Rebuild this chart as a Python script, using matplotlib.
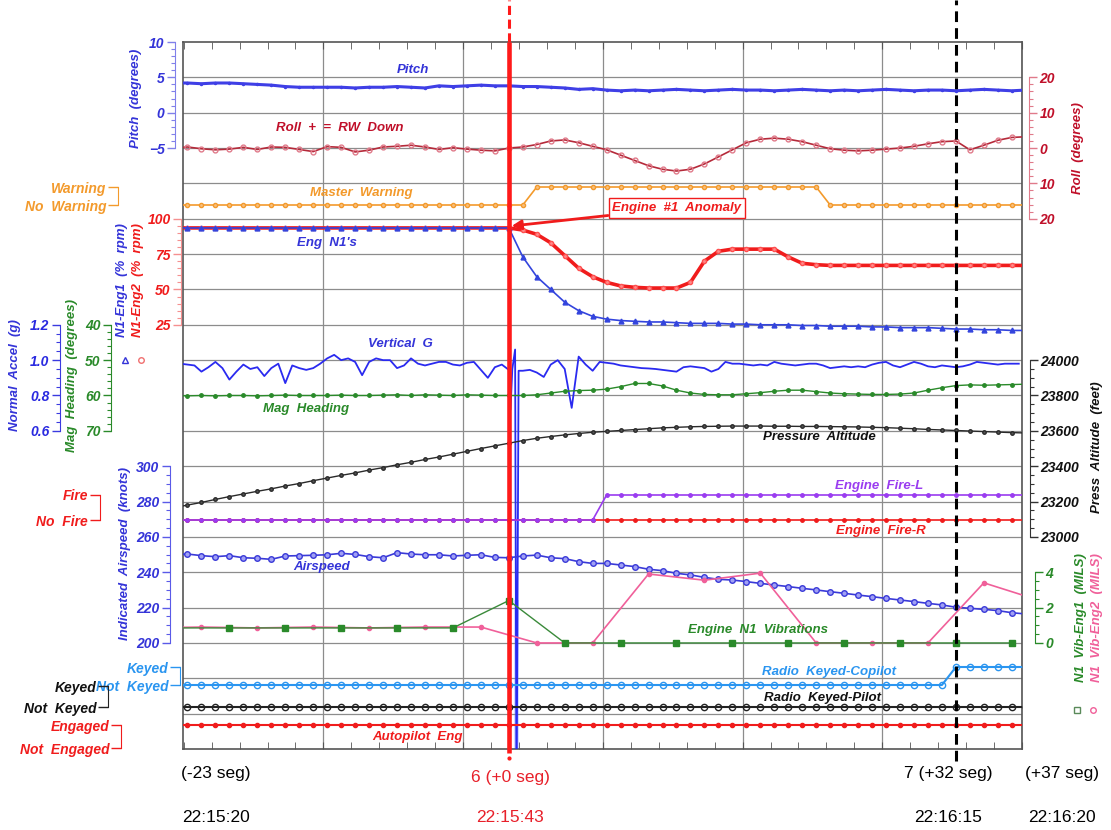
import numpy as np
import matplotlib.pyplot as plt
from matplotlib.lines import Line2D

plt.rcParams['font.family'] = ['Liberation Sans', 'DejaVu Sans']
plt.rcParams['font.weight'] = 'bold'
plt.rcParams['font.style'] = 'italic'

# ---- data (seconds relative to event 6, 22:15:43) ----
t1 = np.arange(-24, 38)          # 1 Hz parameters

pitch = [4.2, 4.2, 4.1, 4.2, 4.2, 4.1, 4.0, 3.9,
         3.7, 3.6, 3.6, 3.6, 3.6, 3.5, 3.6, 3.6,
         3.7, 3.6, 3.5, 3.8, 3.7, 3.8, 3.9, 3.8,
         3.8, 3.7, 3.7, 3.6, 3.5, 3.3, 3.4, 3.2,
         3.1, 3.2, 3.1, 3.2, 3.3, 3.2, 3.1, 3.2,
         3.3, 3.2, 3.2, 3.1, 3.2, 3.3, 3.2, 3.1,
         3.2, 3.1, 3.2, 3.3, 3.2, 3.1, 3.2, 3.2,
         3.1, 3.2, 3.3, 3.2, 3.1, 3.2]

roll = [0.0, 0.3, -0.2, -0.5, -0.3, 0.2, -0.4, 0.3, 0.2, -0.4, -1.0, 0.4,
        0.2, -1.1, -0.6, 0.3, 0.5, 0.8, 0.3, -0.4, 0.1, -0.3, -0.6, -0.8,
        0.0, 0.3, 1.0, 2.0, 2.3, 1.5, 0.5, -0.5, -2.0, -3.5,
        -5.0, -6.0, -6.5, -6.0, -4.5, -2.5, -0.5, 1.5, 2.5, 2.8,
        2.5, 1.8, 0.8, -0.2, -0.6, -0.8, -0.6, -0.3, 0.0, 0.5,
        1.2, 1.8, 2.0, -0.5, 0.8, 2.2, 3.0, 3.2]

master_warning = [0] * 26 + [1] * 21 + [0] * 15

n1_eng1 = [93.5] * 24 + [93.5, 73, 59, 50, 41, 35, 31, 29, 28, 27.5,
                         27, 27, 26.5, 26, 26, 26, 25.5, 25.5, 25, 25,
                         25, 24.5, 24.5, 24, 24, 24, 23.5, 23.5, 23, 23,
                         23, 22.5, 22, 22, 21.5, 21.5, 21, 21]
n1_eng2 = [93.5] * 24 + [93.5, 92, 89, 83, 74, 65, 59, 55, 52.5, 51.5,
                         51, 51, 51, 55, 70, 77, 78.5, 78.5, 78.5, 78.5,
                         73, 68.5, 67.5] + [67] * 15

# vertical G, 2 Hz, plus the burst around the event
g_pre_t = np.arange(-23.5, 0.25, 0.5)
g_pre = [0.98, 0.975, 0.97, 0.935, 0.96, 0.99, 0.955, 0.89, 0.935, 0.975,
         0.95, 0.96, 0.91, 0.955, 0.98, 0.87, 0.97, 0.955, 0.945, 0.955,
         0.98, 1.01, 1.03, 1.0, 1.01, 0.99, 0.915, 0.99, 1.01, 1.0,
         1.0, 0.955, 0.97, 1.01, 0.98, 0.97, 0.98, 0.99, 0.99, 0.975,
         0.97, 0.985, 0.99, 0.945, 0.90, 0.96, 0.975, 0.945]
g_burst_t = [0.12, 0.25, 0.45, 0.55, 0.7]
g_burst = [0.72, 0.95, 1.06, -1.6, 0.94]
g_post_t = np.arange(1.0, 36.75, 0.5)
g_post = [0.94, 0.945, 0.93, 0.905, 0.975, 1.0, 0.95, 0.73, 1.02,
          0.975, 0.94, 0.99, 0.985, 0.98, 0.97, 0.965, 0.96, 0.955, 0.953,
          0.95, 0.945, 0.94, 0.935, 0.96, 0.965, 0.96, 0.955, 0.935, 0.95,
          0.99, 0.98, 0.98, 0.975, 0.97, 0.975, 0.97, 0.99, 0.98, 0.975,
          0.97, 0.975, 0.98, 0.98, 0.97, 0.955, 0.96, 0.965, 0.96, 0.965,
          0.96, 0.975, 0.985, 0.99, 0.97, 0.96, 0.975, 0.99, 0.98, 0.965,
          0.96, 0.97, 0.965, 0.96, 0.965, 0.975, 0.99, 0.985, 0.98, 0.975,
          0.98, 0.98, 0.98]

heading = [60.0, 60.1, 60.0, 60.1, 60.0, 60.0, 60.1, 60.0, 59.9, 60.0, 60.0, 60.0,
           59.9, 60.0, 60.0, 59.9, 59.8, 60.0, 59.8, 59.9, 60.0, 59.8, 59.9, 60.0,
           60.0, 60.0, 59.8, 59.3, 58.8, 58.6, 58.5, 58.2, 57.5, 56.6,
           56.6, 57.3, 58.5, 59.3, 59.7, 59.8, 59.8, 59.5, 59.2, 58.8,
           58.5, 58.5, 58.9, 59.3, 59.5, 59.6, 59.7, 59.7, 59.6, 59.3,
           58.5, 57.8, 57.2, 57.0, 57.1, 57.0, 56.9, 56.8]

altitude = [23165, 23180, 23195, 23212, 23228, 23243, 23258, 23272, 23288, 23302,
            23318, 23333, 23348, 23362, 23378, 23392, 23408, 23422, 23438, 23452,
            23468, 23484, 23500, 23515,
            23530, 23545, 23558, 23568, 23577, 23585, 23592, 23597, 23602, 23607,
            23612, 23617, 23620, 23623, 23625, 23626, 23627, 23627, 23627, 23626,
            23626, 23625, 23625, 23624, 23623, 23622, 23620, 23618, 23615, 23612,
            23608, 23605, 23602, 23599, 23596, 23593, 23590, 23588]

fire_l = [0] * 31 + [1] * 31
fire_r = [0] * 62

airspeed = [250.0, 250.3, 249.4, 248.8, 249.4, 248.2, 247.9, 247.3, 249.2, 249.4,
            249.6, 249.9, 250.7, 250.1, 248.8, 248.2, 251.1, 250.3, 249.9, 249.9,
            249.2, 249.6, 249.9, 248.4,
            248.2, 249.2, 249.7, 248.2, 247.7, 246.0, 245.0, 245.0, 244.1, 243.2,
            241.7, 240.9, 239.4, 238.5, 237.1, 236.0, 235.6, 234.7, 233.7, 232.8,
            231.9, 230.9, 230.0, 229.0, 228.1, 227.1, 226.2, 225.2, 224.3, 223.4,
            222.4, 221.5, 220.2, 219.6, 219.0, 218.3, 217.1, 216.4]

vib1_t = np.arange(-24, 37, 4)
vib1 = [0.85] * 6 + [2.4] + [0.0] * 9
vib2_t = np.arange(-26, 39, 4)
vib2 = [0.85, 0.9, 0.85, 0.9, 0.85, 0.9, 0.9, 0.0, 0.0, 3.9, 3.55, 3.95,
        0.0, 0.0, 0.0, 3.4, 2.4]

radio_copilot = [0] * 56 + [1] * 6
radio_pilot = [0] * 62
autopilot = [1] * 62

# ---- layout ----
W, H = 1111, 830
L, R, T, B = 183, 1022, 42, 749
NROW = 20
rect = [L / W, 1 - B / H, (R - L) / W, (B - T) / H]


def gy(py):
    return (B - py) / (B - T) * NROW


def P(x, y):
    return x / W, 1 - y / H


fig = plt.figure(figsize=(W / 100, H / 100), dpi=100)
ax = fig.add_axes(rect)
ax.set_xlim(-23.32, 36.52)
ax.set_ylim(0, NROW)
ax.set_yticks(np.arange(1, NROW))
ax.set_xticks(np.arange(-13.27, 37, 10))
ax.set_xticks(np.arange(-23.27, 37, 2), minor=True)
ax.grid(True, which='major', color='#8c8c8c', lw=0.9)
ax.tick_params(axis='y', left=False, labelleft=False)
ax.tick_params(axis='x', which='both', direction='in', top=True, bottom=True,
               labelbottom=False, length=5, color='#555')
for s in ax.spines.values():
    s.set_color('#555')
    s.set_linewidth(1.2)
# light band left by the G glitch
ax.axvspan(0.4, 0.75, ymin=0, ymax=gy(600) / NROW, color='#9db0ff', alpha=0.45, lw=0)


def layer(v1, g1, v2, g2):
    a = fig.add_axes(rect, sharex=ax)
    k = (v2 - v1) / (g2 - g1)
    a.set_ylim(v1 - k * g1, v1 + k * (NROW - g1))
    a.patch.set_visible(False)
    for s in a.spines.values():
        s.set_visible(False)
    a.tick_params(which='both', bottom=False, top=False, left=False, right=False,
                  labelbottom=False, labeltop=False, labelleft=False, labelright=False)
    return a


def scale(a, side, xpx, major, minor, spc, lbc, labels=None,
          maj_len=6, min_len=3, size=10):
    sp = a.spines[side]
    sp.set_visible(True)
    sp.set_position(('axes', (xpx - L) / (R - L)))
    sp.set_bounds(min(major), max(major))
    sp.set_color(spc)
    if labels is None:
        a.set_yticks(major)
    else:
        a.set_yticks(major, labels)
    a.set_yticks([] if minor is None else minor, minor=True)
    a.tick_params(axis='y', which='both', color=spc, labelcolor=lbc,
                  labelsize=size, pad=1.5, **{side: True, 'label' + side: True})
    a.tick_params(axis='y', which='major', length=maj_len, width=1)
    a.tick_params(axis='y', which='minor', length=min_len, width=0.8)


BLUE = '#3434d8'
RED = '#f01c1c'
GREEN = '#2a8a2a'
ORANGE = '#f39a2c'
PURPLE = '#9a3cf0'
PINK = '#f0609a'
LBLUE = '#2a95f0'
ROLLC = '#c0102a'

# pitch
a = layer(5, 19, -5, 17)
a.plot(t1, pitch, color='#3f3fe6', lw=2.2, marker='.', ms=3)
scale(a, 'left', 175, [-5, 0, 5, 10], np.arange(-5, 10.5, 1), '#8080ea', BLUE)

# roll
a = layer(0, 17, 20, 19)
a.plot(t1, roll, color='#b52a3a', lw=1.2, marker='o', ms=3.5, mfc='none', mec='#e07a8a')
scale(a, 'right', 1029, [-20, -10, 0, 10, 20], np.arange(-20, 21, 2), '#e07a8a', ROLLC,
      labels=['20', '10', '0', '10', '20'])

# master warning
a = layer(0, gy(205), 1, gy(187))
a.plot(t1, master_warning, color=ORANGE, lw=1.2, marker='o', ms=3, mfc='#f7c080', mec=ORANGE)
scale(a, 'left', 118, [0, 1], None, ORANGE, ORANGE, labels=['No  Warning', 'Warning'],
      maj_len=7)

# N1
a = layer(100, 15, 25, 12)
a.plot(t1, n1_eng2, color=RED, lw=2.6, marker='o', ms=3, mfc='#ff8a8a', mec='#ff5050')
a.plot(t1, n1_eng1, color='#3344dd', lw=1.2, marker='^', ms=3.5)
scale(a, 'left', 181, [25, 50, 75, 100], np.arange(25, 101, 5), '#f59090', RED)

# vertical G
a = layer(1.0, 11, 0.6, 9)
gt = np.concatenate([g_pre_t, g_burst_t, g_post_t])
gv = np.concatenate([g_pre, g_burst, g_post])
a.plot(gt, gv, color='#2a2af0', lw=1.3)
scale(a, 'left', 60, [0.6, 0.8, 1.0, 1.2], np.arange(0.6, 1.21, 0.05), '#3a3ae0', '#2a2ae0',
      labels=['0.6', '0.8', '1.0', '1.2'])

# mag heading
a = layer(40, 12, 70, 9)
a.plot(t1, heading, color=GREEN, lw=1.0, marker='o', ms=2.5)
scale(a, 'left', 111, [40, 50, 60, 70], np.arange(40, 71, 2), GREEN, GREEN)

# pressure altitude
a = layer(23000, 6, 24000, 11)
a.plot(t1, altitude, color='#2a2a2a', lw=1.0, marker='o', ms=2.5, mfc='#555')
scale(a, 'right', 1030, np.arange(23000, 24001, 200), np.arange(23000, 24001, 50),
      '#333', '#111')

# engine fire
a = layer(0, gy(520), 1, gy(495))
a.plot(t1, fire_r, color=RED, lw=1.2, marker='o', ms=2.5)
a.plot(t1, fire_l, color=PURPLE, lw=1.2, marker='o', ms=2.5)
scale(a, 'left', 100, [0, 1], None, RED, RED, labels=['No  Fire', 'Fire'], maj_len=7)

# airspeed
a = layer(200, 3, 300, 8)
a.plot(t1, airspeed, color='#3a3ad8', lw=1.2, marker='o', ms=4, mfc='#a0a0f4', mec='#3a3ad8')
scale(a, 'left', 170, np.arange(200, 301, 20), np.arange(200, 301, 5), '#5a5ae8', BLUE)

# N1 vibrations
a = layer(0, 3, 4, 5)
a.plot(vib2_t, vib2, color=PINK, lw=1.2, marker='o', ms=3)
a.plot(vib1_t, vib1, color='#3a8a3a', lw=1.0, marker='s', ms=4, mfc=GREEN, mec=GREEN)
scale(a, 'right', 1035, [0, 2, 4], np.arange(0, 4.1, 0.5), GREEN, GREEN)

# radio keyed copilot
a = layer(0, gy(685), 1, gy(667))
a.plot(t1, radio_copilot, color=LBLUE, lw=1.5, marker='o', ms=4.5, mfc='none')
scale(a, 'left', 180, [0, 1], None, LBLUE, LBLUE, labels=['Not  Keyed', 'Keyed'], maj_len=7)

# radio keyed pilot
a = layer(0, gy(707), 1, gy(686))
a.plot(t1, radio_pilot, color='#222', lw=1.5, marker='o', ms=4.5, mfc='none')
scale(a, 'left', 108, [0, 1], None, '#222', '#111', labels=['Not  Keyed', 'Keyed'], maj_len=7)

# autopilot
a = layer(0, gy(748), 1, gy(725))
a.plot(t1, autopilot, color=RED, lw=1.5, marker='o', ms=3)
scale(a, 'left', 121, [0, 1], None, RED, RED, labels=['Not  Engaged', 'Engaged'], maj_len=7)

# event lines and annotation on top
top = layer(0, 0, NROW, NROW)
top.plot([0, 0], [-0.1, NROW], color='#ff1a1a', lw=3.3, clip_on=False, solid_capstyle='butt')
top.plot([0, 0], [NROW, NROW + 1.2], color='#ff1a1a', lw=2.2, ls=(0, (3, 1.5)), clip_on=False)
top.plot([32, 32], [-0.35, NROW + 1.2], color='black', lw=2.2, ls=(0, (3.5, 2)), clip_on=False)
top.plot([0], [-0.25], color='#ff1a1a', marker='o', ms=2, clip_on=False)
top.annotate('Engine  #1  Anomaly', xy=(0.2, gy(226)), xycoords='data',
             xytext=(677, H - 208), textcoords='figure pixels', ha='center', va='center',
             color=RED, fontsize=9.5,
             bbox=dict(boxstyle='square,pad=0.3', fc='white', ec=RED, lw=1),
             arrowprops=dict(arrowstyle='-|>', color=RED, lw=2, mutation_scale=14,
                             shrinkA=0, shrinkB=0))

# in-plot labels
labels_in = [('Pitch', 413, 70, BLUE), ('Roll  +  =  RW  Down', 340, 128, ROLLC),
             ('Master  Warning', 361, 193, ORANGE), ("Eng  N1's", 327, 243, BLUE),
             ('Vertical  G', 400, 344, BLUE), ('Mag  Heading', 306, 409, GREEN),
             ('Pressure  Altitude', 819, 437, '#111'), ('Engine  Fire-L', 879, 486, PURPLE),
             ('Engine  Fire-R', 881, 531, RED), ('Airspeed', 322, 567, BLUE),
             ('Engine  N1  Vibrations', 758, 630, GREEN),
             ('Radio  Keyed-Copilot', 829, 672, LBLUE),
             ('Radio  Keyed-Pilot', 822, 698, '#111'), ('Autopilot  Eng', 418, 737, RED)]
for txt, x, y, c in labels_in:
    fig.text(*P(x, y), txt, color=c, fontsize=9.5, ha='center', va='center')

# axis titles
axis_titles = [('Pitch  (degrees)', 136, 98, BLUE), ('N1-Eng1  (%  rpm)', 122, 280, BLUE),
               ('N1-Eng2  (%  rpm)', 138, 280, RED), ('Normal  Accel  (g)', 15, 375, BLUE),
               ('Mag  Heading  (degrees)', 72, 375, GREEN),
               ('Indicated  Airspeed  (knots)', 125, 553, BLUE),
               ('Roll  (degrees)', 1078, 148, ROLLC), ('Press  Altitude  (feet)', 1097, 447, '#111'),
               ('N1  Vib-Eng1  (MILS)', 1081, 618, GREEN), ('N1  Vib-Eng2  (MILS)', 1097, 618, PINK)]
for txt, x, y, c in axis_titles:
    fig.text(*P(x, y), txt, color=c, fontsize=9.5, ha='center', va='center', rotation=90)

for x, y, m, c in [(125, 360, '^', BLUE), (141, 360, 'o', '#f07070'),
                   (1077, 710, 's', '#5a8a5a'), (1093, 710, 'o', PINK)]:
    fig.add_artist(Line2D([x / W], [1 - y / H], transform=fig.transFigure, marker=m, ms=4,
                          mfc='none', mec=c, ls='none'))

# time labels
bottom = [('(-23 seg)', '22:15:20', 216, 'black', 773), ('6 (+0 seg)', '22:15:43', 510, '#e8202a', 777),
          ('7 (+32 seg)', '22:16:15', 948, 'black', 773), ('(+37 seg)', '22:16:20', 1062, 'black', 773)]
for seg, clock, x, c, y in bottom:
    for txt, yy in [(seg, y), (clock, 817)]:
        fig.text(*P(x, yy), txt, color=c, fontsize=12.5, ha='center', va='center',
                 fontweight='normal', fontstyle='normal',
                 family=['Liberation Sans Narrow', 'Liberation Sans', 'DejaVu Sans'])

fig.savefig('out.png', dpi=100)
